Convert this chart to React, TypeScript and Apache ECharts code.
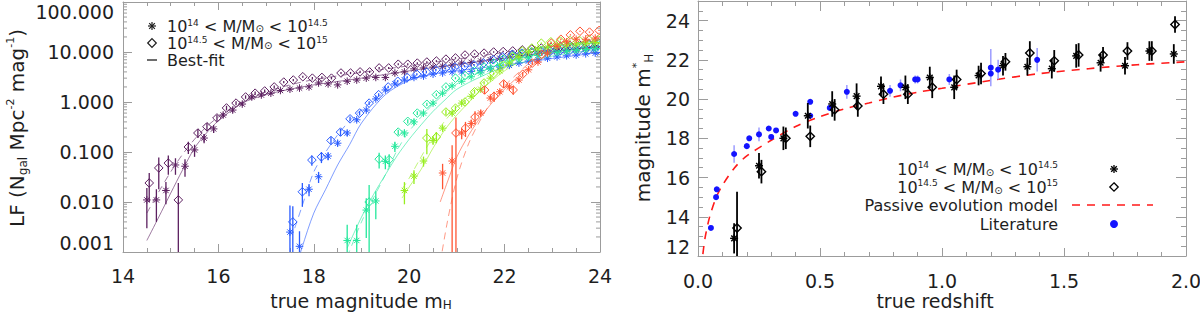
import React, { useEffect, useRef } from "react";
import * as echarts from "echarts";

// ---------------- Left panel: luminosity functions ----------------
// purple (first redshift bin)
const PA_X = [14.5,14.7,14.9,15.1,15.3,15.5,15.7,15.9,16.1,16.3,16.5,16.7,16.9,17.1,17.3,17.5,17.7,17.9,18.1,18.3,18.5,18.7,18.9,19.1,19.3,19.5,19.7,19.9,20.1,20.3,20.5,20.7,20.9,21.1,21.3,21.5,21.7,21.9,22.1,22.3,22.5,22.7,22.9,23.1,23.3,23.5,23.7,23.9];
const PA_Y = [0.011,0.011,0.017,0.055,0.052,0.11,0.19,0.29,0.55,0.69,0.91,1.26,1.38,1.5,1.7,1.8,1.9,2.0,2.4,2.3,2.2,2.6,2.75,3.0,3.1,3.1,3.8,4.0,4.6,4.8,5.0,5.2,5.5,6.0,6.2,6.6,7.0,7.5,8.0,8.5,9.0,9.5,10,10.5,11,11.5,12,12.5];
const PA_E = [0.008,0.007,0.008,0.02,0.02,0.03,0.04,0.05,0.06,0.07,0.08,0.1,0.1,0.1,0.11,0.11,0.12,0.12,0.13,0.13,0.13,0.14,0.14,0.15,0.15,0.15,0.17,0.17,0.18,0.19,0.2,0.2,0.21,0.22,0.23,0.24,0.25,0.26,0.27,0.28,0.29,0.3,0.31,0.32,0.33,0.34,0.35,0.36];
const PD_X = [14.55,14.75,14.95,15.16,15.37,15.57,15.76,15.97,16.17,16.37,16.57,16.77,16.97,17.17,17.37,17.57,17.77,17.97,18.17,18.37,18.57,18.77,18.97,19.17,19.37,19.57,19.77,19.97,20.17,20.37,20.57,20.77,20.97,21.17,21.37,21.57,21.77,21.97,22.17,22.37,22.57,22.77,22.97,23.17,23.37,23.57,23.77,23.97];
const PD_Y = [0.024,0.048,0.06,0.011,0.126,0.24,0.32,0.48,0.76,0.95,1.26,1.5,1.66,2.0,2.5,2.75,3.2,3.0,3.1,3.0,3.8,3.8,4.0,4.0,4.8,4.8,5.7,5.7,6.0,6.3,6.6,7.2,7.6,8.7,9.1,9.5,10,10.2,10.5,11,11.5,12,12.5,13,13.5,14,14.5,15];
const PD_E = [0.014,0.03,0.025,0.013,0.035,0.05,0.06,0.07,0.08,0.09,0.1,0.12,0.12,0.13,0.14,0.15,0.16,0.16,0.17,0.17,0.18,0.19,0.2,0.2,0.22,0.22,0.24,0.24,0.25,0.26,0.27,0.28,0.29,0.31,0.32,0.33,0.34,0.35,0.36,0.37,0.38,0.39,0.4,0.41,0.42,0.43,0.44,0.45];
// blue
const BA_X = [17.5,17.7,17.9,18.1,18.3,18.5,18.7,18.9,19.1,19.3,19.5,19.7,19.9,20.1,20.3,20.5,20.7,20.9,21.1,21.3,21.5,21.7,21.9,22.1,22.3,22.5,22.7,22.9,23.1,23.3,23.5,23.7,23.9];
const BA_Y = [0.0025,0.0013,0.018,0.032,0.083,0.15,0.24,0.44,0.69,1.15,1.74,2.3,2.75,3.1,3.3,3.6,3.8,4.0,4.0,4.1,4.3,4.6,5.0,5.4,6.0,6.6,7.0,7.5,8.0,8.4,8.7,9.2,9.5];
const BA_E = [0.006,0.0013,0.005,0.008,0.015,0.02,0.03,0.04,0.05,0.08,0.1,0.12,0.14,0.15,0.16,0.17,0.18,0.19,0.2,0.2,0.2,0.22,0.24,0.26,0.28,0.3,0.32,0.35,0.37,0.4,0.4,0.42,0.45];
const BD_X = [17.56,17.76,17.96,18.16,18.36,18.56,18.76,18.96,19.16,19.36,19.56,19.76,19.96,20.16,20.36,20.56,20.76,20.96,21.16,21.36,21.56,21.76,21.96,22.16,22.36,22.56,22.76,22.96,23.16,23.36,23.56,23.76,23.96];
const BD_Y = [0.004,0.016,0.069,0.08,0.17,0.25,0.46,0.6,0.95,1.4,2.0,2.6,3.1,3.6,4.0,4.4,4.7,5.0,5.2,5.5,6.0,7.0,8.0,9.0,9.5,10,10.2,10.5,10.5,10.6,10.8,11,11.2];
const BD_E = [0.0042,0.008,0.016,0.02,0.03,0.04,0.05,0.06,0.08,0.1,0.12,0.14,0.16,0.18,0.2,0.21,0.22,0.23,0.24,0.25,0.27,0.3,0.33,0.36,0.38,0.4,0.41,0.42,0.42,0.43,0.44,0.45,0.46];
// green
const GA_X = [18.7,18.9,19.1,19.3,19.5,19.7,19.9,20.1,20.3,20.5,20.7,20.9,21.1,21.3,21.5,21.7,21.9,22.1,22.3,22.5,22.7,22.9,23.1,23.3,23.5,23.7,23.9];
const GA_Y = [0.0017,0.0017,0.0069,0.0105,0.065,0.13,0.24,0.4,0.6,0.95,1.5,2.1,2.6,3.2,3.8,4.6,5.4,6.3,7.0,7.8,8.5,9.2,9.8,10.3,10.8,11.2,11.6];
const GA_E = [0.0018,0.0018,0.005,0.006,0.02,0.03,0.04,0.05,0.06,0.08,0.1,0.13,0.15,0.17,0.19,0.22,0.24,0.27,0.29,0.31,0.33,0.35,0.37,0.39,0.4,0.41,0.42];
const GD_X = [19.16,19.37,19.58,19.77,19.97,20.17,20.37,20.57,20.77,20.97,21.17,21.37,21.57,21.77,21.97,22.17,22.37,22.57,22.77,22.97,23.17,23.37,23.57,23.77,23.97];
const GD_Y = [0.01,0.072,0.07,0.25,0.41,0.6,0.9,1.4,2.0,3.0,3.4,4.2,5.0,6.0,7.2,8.3,9.2,10,10.8,11.5,12,12.5,13,13.4,13.8];
const GD_E = [0.012,0.025,0.02,0.03,0.04,0.05,0.07,0.09,0.12,0.15,0.17,0.19,0.22,0.25,0.28,0.3,0.33,0.35,0.37,0.39,0.41,0.42,0.43,0.44,0.45];
// yellow-green
const YA_X = [19.9,20.1,20.3,20.5,20.7,20.9,21.1,21.3,21.5,21.7,21.9,22.1,22.3,22.5,22.7,22.9,23.1,23.3,23.5,23.7,23.9];
const YA_Y = [0.017,0.033,0.066,0.17,0.3,0.6,0.95,1.3,1.8,3.0,4.2,6.0,8.0,10,11.5,12.5,13.5,14,14.5,15,15.5];
const YA_E = [0.008,0.01,0.015,0.03,0.04,0.06,0.08,0.1,0.13,0.18,0.22,0.27,0.3,0.34,0.37,0.39,0.41,0.42,0.43,0.44,0.45];
const YD_X = [20.37,20.57,20.77,20.97,21.17,21.37,21.57,21.77,21.97,22.17,22.37,22.57,22.77,22.97,23.17,23.37,23.57,23.77,23.97];
const YD_Y = [0.19,0.2,0.63,0.75,1.0,1.6,2.4,3.7,5.5,8,10.5,12,15,16,16.5,17,17,17.5,17.5];
const YD_E = [0.1,0.05,0.08,0.09,0.1,0.13,0.16,0.2,0.25,0.3,0.35,0.38,0.42,0.44,0.45,0.46,0.46,0.47,0.47];
// red
const RA_X = [20.7,20.9,21.1,21.3,21.5,21.7,21.9,22.1,22.3,22.5,22.7,22.9,23.1,23.3,23.5,23.7,23.9];
const RA_Y = [0.038,0.066,0.24,0.37,0.6,1.2,1.6,2.0,2.75,4.4,6.3,9.5,13,16,18,18,19];
const RA_E = [0.02,0.07,0.06,0.07,0.08,0.12,0.15,0.18,0.22,0.28,0.33,0.38,0.43,0.47,0.5,0.5,0.52];
const RD_X = [20.98,21.18,21.38,21.58,21.78,21.98,22.18,22.38,22.58,22.78,22.98,23.18,23.38,23.58,23.78,23.98];
const RD_Y = [0.24,0.3,0.5,1.74,1.3,2.3,1.74,3.6,6,9,15,18,22,26,25,27];
const RD_E = [0.25,0.1,0.15,0.3,0.3,0.4,0.35,0.4,0.5,0.55,0.6,0.62,0.65,0.7,0.7,0.72];

// best-fit curves (solid: low-mass bin, dashed: high-mass bin)
const PF_X = [14.5,14.75,15,15.25,15.5,15.75,16,16.5,17,17.5,18,19,20,21,22,23,24];
const PF_S = [0.0017,0.005,0.015,0.044,0.12,0.24,0.42,0.95,1.4,1.8,2.2,3.0,4.2,5.6,7.5,10,13];
const PF_D = [0.006,0.016,0.04,0.09,0.18,0.32,0.5,1.0,1.6,2.2,2.8,3.9,5.3,7.2,9.8,13,17];
const BF_X = [17.6,17.75,18,18.25,18.5,18.75,19,19.5,20,20.5,21,22,23,24];
const BF_S = [0.0004,0.0012,0.006,0.018,0.055,0.14,0.38,1.4,2.7,3.6,4.2,5.5,7.4,9.8];
const BF_D = [0.003,0.008,0.04,0.1,0.22,0.42,0.7,1.6,2.8,3.8,4.7,6.8,9.2,12];
const GF_X = [18.7,19,19.25,19.5,19.75,20,20.25,20.5,20.75,21,21.5,22,23,24];
const GF_S = [0.0012,0.005,0.014,0.035,0.085,0.18,0.35,0.65,1.1,1.8,3.2,5.0,8.3,11.5];
const GF_D = [0.0008,0.004,0.012,0.035,0.11,0.26,0.5,0.9,1.5,2.3,4.0,6.2,10,13.5];
const YF_X = [19.85,20,20.25,20.5,20.75,21,21.5,22,22.5,23,24];
const YF_S = [0.012,0.02,0.045,0.12,0.28,0.55,1.7,4.2,8,11.5,15.5];
const YF_D = [0.018,0.03,0.08,0.2,0.42,0.8,2.3,5.2,9.5,13,17];
const RF_X = [20.65,20.8,21,21.25,21.5,21.75,22,22.5,23,23.5,24];
const RF_S = [0.01,0.025,0.08,0.22,0.5,1.0,1.8,4.8,10,15,19];
const RF_D = [0.0006,0.004,0.03,0.15,0.45,1.1,2.1,5.8,13,19,24];

// ---------------- Right panel: m* vs redshift ----------------
const LIT_Z = [0.053,0.074,0.077,0.148,0.2,0.21,0.25,0.29,0.3,0.32,0.4,0.46,0.46,0.54,0.61,0.787,0.83,0.89,0.9,1.03,1.2,1.2,1.23,1.39];
const LIT_M = [13.43,15.0,15.4,17.2,17.6,18.0,18.2,18.5,18.07,18.4,19.25,19.86,19.15,19.55,20.37,20.42,20.7,21.0,21.0,21.0,21.6,21.3,21.5,22.0];
const LIT_E = [0,0,0,0.45,0,0,0.35,0,0,0,0,0,0,0,0.35,0.3,0.3,0.2,0.2,0.28,0.95,0,0.5,0.6];
const LO_Z = [0.148,0.25,0.35,0.45,0.55,0.65,0.75,0.85,0.95,1.05,1.15,1.25,1.35,1.45,1.55,1.65,1.75,1.85,1.95];
const LO_M = [12.9,16.6,18.0,19.15,19.75,20.15,20.65,20.6,21.1,20.6,21.2,21.7,21.65,21.55,22.2,21.85,21.7,22.45,22.3];
const LO_E = [0.77,0.65,0.6,0.65,0.65,0.65,0.5,0.6,0.55,0.6,0.5,0.5,0.45,0.5,0.6,0.45,0.45,0.5,0.5];
const HI_Z = [0.16,0.26,0.36,0.46,0.56,0.655,0.76,0.86,0.96,1.06,1.16,1.26,1.36,1.46,1.56,1.66,1.76,1.86,1.955];
const HI_M = [13.43,16.3,18.0,18.1,19.45,19.65,20.25,20.25,20.6,21.0,21.3,21.9,22.35,21.95,22.25,22.25,22.45,22.45,23.8];
const HI_E = [1.85,0.6,0.55,0.55,0.55,0.55,0.5,0.5,0.55,0.5,0.55,0.45,0.6,0.55,0.6,0.4,0.45,0.5,0.42];
const MODEL_Z = [0.02,0.025,0.03,0.04,0.05,0.075,0.1,0.15,0.2,0.3,0.4,0.5,0.6,0.7,0.8,0.9,1.0,1.2,1.4,1.6,1.8,2.0];
const MODEL_M = [12.1,12.6,13.0,13.6,14.1,15.0,15.6,16.5,17.1,17.9,18.6,19.1,19.5,19.8,20.1,20.35,20.55,20.95,21.3,21.55,21.75,21.9];

// tick labels
const LEFT_X_TICKS = [14, 16, 18, 20, 22, 24];
const RIGHT_Y_TICKS = [12, 14, 16, 18, 20, 22, 24];

const FONT = "DejaVu Sans";
const INK = "#1e1e1e";
const AXIS = "#9c9c9c";
const PURPLE = "#5c2060";
const BLUE = "#2a5cff";
const GREEN = "#24e89c";
const YGREEN = "#98ee20";
const RED = "#ff5533";

function rich(size: number, lh: number) {
  return {
    n: { fontSize: size, fontFamily: FONT, fill: INK, color: INK, lineHeight: lh, verticalAlign: "middle" },
    sup: { fontSize: Math.round(size * 0.56), fontFamily: FONT, fill: INK, color: INK, lineHeight: Math.round(size * 0.6), verticalAlign: "top" },
    sub: { fontSize: Math.round(size * 0.62), fontFamily: FONT, fill: INK, color: INK, lineHeight: Math.round(size * 0.66), verticalAlign: "bottom" },
  };
}

function asterisk(cx: number, cy: number, r: number, color: string, lw: number): any[] {
  const d = r * Math.SQRT1_2;
  const st = { stroke: color, lineWidth: lw };
  return [
    { type: "line", shape: { x1: cx - r, y1: cy, x2: cx + r, y2: cy }, style: st },
    { type: "line", shape: { x1: cx, y1: cy - r, x2: cx, y2: cy + r }, style: st },
    { type: "line", shape: { x1: cx - d, y1: cy - d, x2: cx + d, y2: cy + d }, style: st },
    { type: "line", shape: { x1: cx - d, y1: cy + d, x2: cx + d, y2: cy - d }, style: st },
  ];
}
function diamond(cx: number, cy: number, r: number, color: string, lw: number): any {
  return {
    type: "polygon",
    shape: { points: [[cx, cy - r], [cx + r, cy], [cx, cy + r], [cx - r, cy]] },
    style: { fill: "none", stroke: color, lineWidth: lw },
  };
}

function pointSeries(xIdx: number, yIdx: number, xs: number[], ys: number[], es: number[], color: string, kind: string, o: any) {
  return {
    type: "custom",
    xAxisIndex: xIdx,
    yAxisIndex: yIdx,
    clip: true,
    z: 4,
    data: xs.map((x, i) => [x, ys[i], es[i]]),
    renderItem: (_p: any, api: any) => {
      const x = api.value(0), y = api.value(1), e = api.value(2);
      const p = api.coord([x, y]);
      const children: any[] = [];
      if (e > 0) {
        const lowV = y - e;
        const lo = api.coord([x, lowV > 0 || !o.log ? lowV : 1e-6]);
        const hi = api.coord([x, y + e]);
        children.push({ type: "line", shape: { x1: p[0], y1: lo[1], x2: p[0], y2: hi[1] }, style: { stroke: o.barColor || color, lineWidth: o.barWidth } });
      }
      if (kind === "ast") children.push(...asterisk(p[0], p[1], o.r, color, o.lw));
      else if (kind === "dia") children.push(diamond(p[0], p[1], o.rd || o.r, color, o.lw));
      else children.push({ type: "circle", shape: { cx: p[0], cy: p[1], r: o.r }, style: { fill: color } });
      return { type: "group", children };
    },
  };
}

function fitSeries(xs: number[], ys: number[], color: string, dashed: boolean) {
  return {
    type: "line",
    xAxisIndex: 0,
    yAxisIndex: 0,
    data: xs.map((x, i) => [x, ys[i]]),
    showSymbol: false,
    smooth: 0.3,
    silent: true,
    z: 2,
    lineStyle: { color, width: 1, opacity: 0.6, type: dashed ? [7, 5] : "solid" },
  };
}

// log minor tick positions (2..9 in each decade) — axis decoration
const LOG_MINOR: number[] = [];
for (let d = -3; d <= 1; d++) for (let k = 2; k <= 9; k++) LOG_MINOR.push(k * Math.pow(10, d));

function buildOption(): any {
  const tickLabel = { fontFamily: FONT, fontSize: 19, color: INK };
  const xTickLabel = { ...tickLabel, lineHeight: 16 };
  const axisLine = { show: true, onZero: false, lineStyle: { color: AXIS, width: 1 } };
  const xCommon = (grid: number, min: number, max: number, interval: number, split: number, pos: string, labels: boolean, margin: number) => ({
    type: "value", gridIndex: grid, min, max, interval, position: pos,
    axisLine, splitLine: { show: false },
    axisTick: { show: true, inside: true, length: 8, lineStyle: { color: AXIS } },
    minorTick: { show: true, splitNumber: split, length: 4, lineStyle: { color: AXIS } },
    axisLabel: labels ? { ...xTickLabel, margin } : { show: false },
  });

  const series: any[] = [
    // log minor ticks, left and right edges of the left panel
    {
      type: "custom", xAxisIndex: 0, yAxisIndex: 0, silent: true, z: 1, clip: false,
      data: LOG_MINOR.map((v) => [14, v]),
      renderItem: (_p: any, api: any) => {
        const a = api.coord([14, api.value(1)]);
        const b = api.coord([24, api.value(1)]);
        const st = { stroke: AXIS, lineWidth: 1 };
        return {
          type: "group",
          children: [
            { type: "line", shape: { x1: a[0], y1: a[1], x2: a[0] + 4, y2: a[1] }, style: st },
            { type: "line", shape: { x1: b[0], y1: b[1], x2: b[0] - 4, y2: b[1] }, style: st },
          ],
        };
      },
    },
    fitSeries(PF_X, PF_S, PURPLE, false), fitSeries(PF_X, PF_D, PURPLE, true),
    fitSeries(BF_X, BF_S, BLUE, false), fitSeries(BF_X, BF_D, BLUE, true),
    fitSeries(GF_X, GF_S, GREEN, false), fitSeries(GF_X, GF_D, GREEN, true),
    fitSeries(YF_X, YF_S, YGREEN, false), fitSeries(YF_X, YF_D, YGREEN, true),
    fitSeries(RF_X, RF_S, RED, false), fitSeries(RF_X, RF_D, RED, true),
  ];
  const L = { log: true, r: 3.8, rd: 4.3, lw: 1, barWidth: 1.3 };
  series.push(
    pointSeries(0, 0, PA_X, PA_Y, PA_E, PURPLE, "ast", L), pointSeries(0, 0, PD_X, PD_Y, PD_E, PURPLE, "dia", L),
    pointSeries(0, 0, BA_X, BA_Y, BA_E, BLUE, "ast", L), pointSeries(0, 0, BD_X, BD_Y, BD_E, BLUE, "dia", L),
    pointSeries(0, 0, GA_X, GA_Y, GA_E, GREEN, "ast", L), pointSeries(0, 0, GD_X, GD_Y, GD_E, GREEN, "dia", L),
    pointSeries(0, 0, YA_X, YA_Y, YA_E, YGREEN, "ast", L), pointSeries(0, 0, YD_X, YD_Y, YD_E, YGREEN, "dia", L),
    pointSeries(0, 0, RA_X, RA_Y, RA_E, RED, "ast", L), pointSeries(0, 0, RD_X, RD_Y, RD_E, RED, "dia", L),
  );
  // right panel
  series.push({
    type: "line", xAxisIndex: 2, yAxisIndex: 2, data: MODEL_Z.map((z, i) => [z, MODEL_M[i]]),
    showSymbol: false, smooth: 0.3, silent: true, z: 2,
    lineStyle: { color: "#ff1a1a", width: 1.6, type: [8, 7] },
  });
  series.push(
    pointSeries(2, 2, LIT_Z, LIT_M, LIT_E, "#1414ff", "dot", { r: 3, barWidth: 1.5, barColor: "#9c9cff" }),
    pointSeries(2, 2, LO_Z, LO_M, LO_E, "#000000", "ast", { r: 4, lw: 1.4, barWidth: 1.8 }),
    pointSeries(2, 2, HI_Z, HI_M, HI_E, "#000000", "dia", { r: 4.2, lw: 1.4, barWidth: 1.8 }),
  );

  const legendRichL = rich(16, 15);
  const legendRichR = rich(16, 17);
  const titleRichV = rich(20, 24);
  const titleRichH = rich(19, 20);
  const massLo = "{n|10}{sup|14}{n| < M/M}{sub|\u2299}{n| < 10}{sup|14.5}";
  const massHi = "{n|10}{sup|14.5}{n| < M/M}{sub|\u2299}{n| < 10}{sup|15}";
  const txt = (x: number, y: number, text: string, r: any, align = "left", rotation = 0) => ({
    type: "text", x, y, rotation, z: 10,
    style: { text, rich: r, align, verticalAlign: "middle", fontFamily: FONT, fill: INK },
  });

  const graphic: any[] = [
    txt(17, 128, "{n|LF (N}{sub|gal}{n| Mpc}{sup|-2}{n| mag}{sup|-1}{n|)}", titleRichV, "center", Math.PI / 2),
    txt(361, 301, "{n|true magnitude m}{sub|H}", titleRichH, "center"),
    txt(643, 128, "{n|magnitude m}{sup|*}{sub|H}", titleRichV, "center", Math.PI / 2),
    txt(935, 301, "{n|true redshift}", titleRichH, "center"),
    // left legend
    txt(167, 26, massLo, legendRichL),
    txt(167, 43, massHi, legendRichL),
    txt(167, 60, "{n|Best-fit}", legendRichL),
    { type: "group", children: asterisk(152, 26, 4, INK, 1.2) },
    diamond(152, 43, 4.3, INK, 1.2),
    { type: "line", shape: { x1: 147, y1: 60, x2: 157, y2: 60 }, style: { stroke: INK, lineWidth: 1.3 } },
    // right legend
    txt(1058, 169, massLo, legendRichR, "right"),
    txt(1058, 187, massHi, legendRichR, "right"),
    txt(1058, 205, "{n|Passive evolution model}", legendRichR, "right"),
    txt(1058, 224, "{n|Literature}", legendRichR, "right"),
    { type: "group", children: asterisk(1114, 169, 4, "#000", 1.3) },
    diamond(1114, 187, 4.2, "#000", 1.3),
    { type: "line", shape: { x1: 1072, y1: 205, x2: 1153, y2: 205 }, style: { stroke: "#ff1a1a", lineWidth: 1.6, lineDash: [8, 7] } },
    { type: "circle", shape: { cx: 1114, cy: 224, r: 4 }, style: { fill: "#1414ff" } },
  ];

  return {
    animation: false,
    backgroundColor: "#ffffff",
    grid: [
      { left: 123, top: 2, width: 477, height: 250, outerBoundsMode: "none", containLabel: false },
      { left: 698, top: 1, width: 488, height: 255, outerBoundsMode: "none", containLabel: false },
    ],
    xAxis: [
      { ...xCommon(0, LEFT_X_TICKS[0], LEFT_X_TICKS[LEFT_X_TICKS.length - 1], 2, 4, "bottom", true, 16) },
      { ...xCommon(0, 14, 24, 2, 4, "top", false, 0) },
      { ...xCommon(1, 0, 2, 0.5, 5, "bottom", true, 17), axisLabel: { ...xTickLabel, margin: 17, formatter: (v: number) => v.toFixed(1) } },
      { ...xCommon(1, 0, 2, 0.5, 5, "top", false, 0), axisTick: { show: true, inside: true, length: 10, lineStyle: { color: AXIS } }, minorTick: { show: true, splitNumber: 5, length: 5, lineStyle: { color: AXIS } } },
    ],
    yAxis: [
      {
        type: "log", gridIndex: 0, min: 0.001, max: 100, logBase: 10, splitNumber: 5, position: "left",
        axisLine, splitLine: { show: false },
        axisTick: { show: true, inside: true, length: 9, lineStyle: { color: AXIS } },
        axisLabel: { ...tickLabel, margin: 9, formatter: (v: number) => Number(v).toFixed(3), verticalAlignMaxLabel: "top", verticalAlignMinLabel: "bottom" },
      },
      {
        type: "log", gridIndex: 0, min: 0.001, max: 100, logBase: 10, splitNumber: 5, position: "right",
        axisLine, splitLine: { show: false },
        axisTick: { show: true, inside: true, length: 9, lineStyle: { color: AXIS } },
        axisLabel: { show: false },
      },
      {
        type: "value", gridIndex: 1, min: RIGHT_Y_TICKS[0], max: 25, interval: 2, position: "left",
        axisLine, splitLine: { show: false },
        axisTick: { show: true, inside: true, length: 10, lineStyle: { color: AXIS } },
        minorTick: { show: true, splitNumber: 4, length: 5, lineStyle: { color: AXIS } },
        axisLabel: { ...tickLabel, margin: 8, formatter: (v: number) => (RIGHT_Y_TICKS.includes(v) ? String(v) : ""), verticalAlignMinLabel: "bottom" },
      },
      {
        type: "value", gridIndex: 1, min: 12, max: 25, interval: 2, position: "right",
        axisLine, splitLine: { show: false },
        axisTick: { show: true, inside: true, length: 10, lineStyle: { color: AXIS } },
        minorTick: { show: true, splitNumber: 4, length: 5, lineStyle: { color: AXIS } },
        axisLabel: { show: false },
      },
    ],
    series,
    graphic,
  };
}

export default function App() {
  const ref = useRef<HTMLDivElement>(null);
  useEffect(() => {
    const chart = echarts.init(ref.current as HTMLDivElement, null, { renderer: "svg" });
    chart.setOption(buildOption());
    return () => chart.dispose();
  }, []);
  return <div ref={ref} style={{ position: "absolute", left: 0, top: 0, width: 1200, height: 312, background: "#fff" }} />;
}
